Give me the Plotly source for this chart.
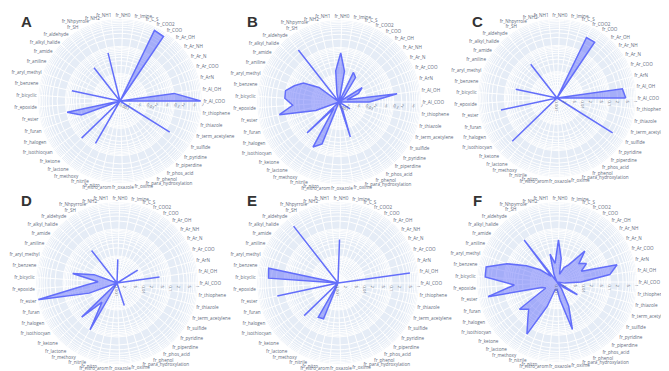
import plotly.graph_objects as go

categories = ["fr_Al_COO", "fr_Al_OH", "fr_ArN", "fr_Ar_COO", "fr_Ar_N", "fr_Ar_NH", "fr_Ar_OH",
              "fr_COO", "fr_COO2", "fr_C_S", "fr_Imine", "fr_NH0", "fr_NH1", "fr_NH2",
              "fr_Nhpyrrole", "fr_SH", "fr_aldehyde", "fr_alkyl_halide", "fr_amide", "fr_aniline",
              "fr_aryl_methyl", "fr_benzene", "fr_bicyclic", "fr_epoxide", "fr_ester", "fr_furan",
              "fr_halogen", "fr_isothiocyan", "fr_ketone", "fr_lactone", "fr_methoxy", "fr_nitrile",
              "fr_nitro", "fr_nitro_arom", "fr_oxazole", "fr_oxime", "fr_para_hydroxylation",
              "fr_phenol", "fr_phos_acid", "fr_piperdine", "fr_pyridine", "fr_sulfide",
              "fr_term_acetylene", "fr_thiazole", "fr_thiophene"]

panel_labels = ["A", "B", "C", "D", "E", "F"]

values_A = [0.9, 0.1, 0.001, 0.001, 0.001, 0.001, 0.001, 0.7, 0.75, 0.001, 0.001, 0.001, 0.001, 0.065,
            0.001, 0.001, 0.035, 0.001, 0.001, 0.001, 0.001, 0.063, 0.001, 0.001, 0.095, 0.032,
            0.001, 0.001, 0.09, 0.001, 0.062, 0.001, 0.001, 0.001, 0.001, 0.001, 0.001,
            0.001, 0.001, 0.001, 0.001, 0.14, 0.001, 0.001, 0.001]

values_B = [0.013, 0.14, 0.002, 0.006, 0.01, 0.001, 0.002, 0.012, 0.016, 0.001, 0.014, 0.063, 0.014, 0.002,
            0.001, 0.001, 0.26, 0.001, 0.008, 0.03, 0.055, 0.1, 0.097, 0.05, 0.17, 0.008,
            0.001, 0.001, 0.042, 0.002, 0.08, 0.045, 0.001, 0.001, 0.001, 0.001, 0.022,
            0.002, 0.001, 0.001, 0.001, 0.003, 0.001, 0.001, 0.001]

values_C = [0.41, 0.32, 0.001, 0.001, 0.001, 0.001, 0.001, 0.36, 0.36, 0.001, 0.001, 0.001, 0.001, 0.001,
            0.001, 0.001, 0.042, 0.001, 0.001, 0.001, 0.001, 0.04, 0.001, 0.001, 0.15, 0.001,
            0.001, 0.001, 0.23, 0.001, 0.001, 0.001, 0.001, 0.001, 0.001, 0.001, 0.001,
            0.001, 0.001, 0.001, 0.001, 0.31, 0.001, 0.001, 0.001]

values_D = [0.001, 0.039, 0.001, 0.001, 0.008, 0.001, 0.001, 0.001, 0.001, 0.001, 0.001, 0.0075, 0.001, 0.001,
            0.001, 0.001, 0.034, 0.001, 0.001, 0.001, 0.008, 0.048, 0.005, 0.015, 1.0, 0.0125,
            0.001, 0.001, 0.066, 0.008, 0.1, 0.001, 0.001, 0.001, 0.001, 0.001, 0.0075,
            0.001, 0.001, 0.001, 0.001, 0.001, 0.001, 0.001, 0.001]

values_E = [0.001, 0.49, 0.001, 0.001, 0.001, 0.001, 0.001, 0.001, 0.001, 0.001, 0.001, 0.041, 0.001, 0.001,
            0.001, 0.001, 0.47, 0.001, 0.001, 0.001, 0.001, 0.42, 0.38, 0.001, 0.2, 0.001,
            0.001, 0.001, 0.055, 0.001, 0.029, 0.027, 0.001, 0.001, 0.001, 0.001, 0.001,
            0.001, 0.001, 0.001, 0.001, 0.001, 0.001, 0.001, 0.001]

values_F = [0.008, 0.1, 0.22, 0.01, 0.02, 0.012, 0.036, 0.006, 0.004, 0.002, 0.008, 0.038, 0.005, 0.012,
            0.002, 0.001, 0.1, 0.002, 0.006, 0.02, 0.1, 0.52, 0.5, 0.04, 0.44, 0.004,
            0.003, 0.055, 0.03, 0.06, 0.18, 0.01, 0.002, 0.002, 0.002, 0.005, 0.075,
            0.01, 0.002, 0.001, 0.002, 0.008, 0.001, 0.001, 0.002]

all_values = [values_A, values_B, values_C, values_D, values_E, values_F]

W, H = 669, 371
centers = [(112, 93), (331, 94), (549, 90), (109, 275), (330, 275), (549, 274)]
radii = [82, 82, 79, 81, 81, 80]
letter_pos = [(18, 13), (244, 13), (469, 13), (18, 192), (244, 192), (469, 192)]

tickvals = []
ticktext = []
for dec in [0.001, 0.01, 0.1]:
    for m in range(1, 10):
        tickvals.append(round(dec * m, 6))
        if m == 1:
            ticktext.append(str(dec))
        elif m in (2, 5):
            ticktext.append(str(m))
        else:
            ticktext.append("")
tickvals.append(1)
ticktext.append("1")

fig = go.Figure()
layout = dict(width=W, height=H, margin=dict(l=0, r=0, t=0, b=0),
              paper_bgcolor="white", showlegend=False,
              font=dict(family="Open Sans, Arial, sans-serif"))

for i, vals in enumerate(all_values):
    name = "polar" if i == 0 else f"polar{i+1}"
    cx, cy = centers[i]
    R = radii[i]
    fig.add_trace(go.Scatterpolar(
        r=vals + [vals[0]], theta=categories + [categories[0]],
        mode="lines", fill="toself",
        line=dict(color="#636EFA", width=1.5),
        fillcolor="rgba(99,110,250,0.5)",
        subplot=name, hoverinfo="skip"))
    layout[name] = dict(
        domain=dict(x=[(cx - R) / W, (cx + R) / W], y=[(H - cy - R) / H, (H - cy + R) / H]),
        bgcolor="#E5ECF6",
        angularaxis=dict(direction="counterclockwise", rotation=0, categoryorder="array",
                         categoryarray=categories, gridcolor="white", linecolor="white",
                         tickfont=dict(size=4.6, color="#5f6b7d"), ticks=""),
        radialaxis=dict(type="log", range=[-3, 0], tickvals=tickvals, ticktext=ticktext,
                        gridcolor="white", linecolor="white", angle=0,
                        tickfont=dict(size=4.2, color="#5f6b7d"), ticks="", showline=False),
    )

annotations = []
for lab, (x, y) in zip(panel_labels, letter_pos):
    annotations.append(dict(text=f"<b>{lab}</b>", x=x / W, y=1 - y / H, xref="paper", yref="paper",
                            showarrow=False, xanchor="center", yanchor="middle",
                            font=dict(size=15, color="#333333", family="Arial, Liberation Sans, sans-serif")))
layout["annotations"] = annotations
fig.update_layout(**layout)
fig.write_html("out.html")
